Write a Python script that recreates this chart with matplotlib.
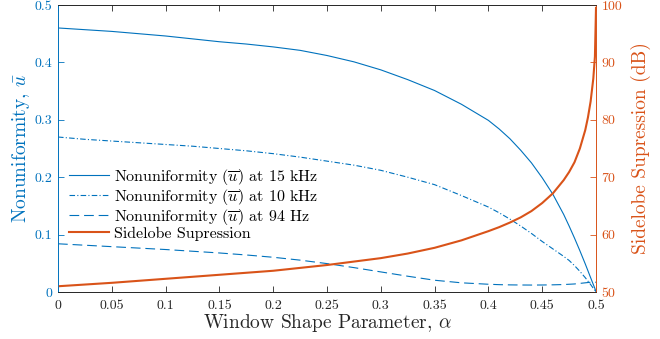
import numpy as np
import matplotlib
matplotlib.use('Agg')
import matplotlib.pyplot as plt
from matplotlib.ticker import FuncFormatter

plt.rcParams['font.family'] = 'cmr10'
plt.rcParams['mathtext.fontset'] = 'cm'
plt.rcParams['axes.formatter.use_mathtext'] = True
plt.rcParams['lines.scale_dashes'] = False

# window shape parameter values
alpha = [0, 0.025, 0.05, 0.075, 0.1, 0.125, 0.15, 0.175, 0.2, 0.225, 0.25, 0.275,
         0.3, 0.325, 0.35, 0.375, 0.4, 0.41, 0.42, 0.43, 0.44, 0.45, 0.46, 0.47,
         0.475, 0.48, 0.485, 0.49, 0.4925, 0.495, 0.4975, 0.499, 0.5]

# nonuniformity (left axis)
u_15k = [0.460, 0.457, 0.454, 0.450, 0.446, 0.441, 0.436, 0.432, 0.427, 0.421, 0.412, 0.401,
         0.387, 0.370, 0.351, 0.327, 0.299, 0.284, 0.267, 0.247, 0.225, 0.199, 0.170, 0.135,
         0.115, 0.094, 0.072, 0.049, 0.037, 0.025, 0.013, 0.006, 0.0]
u_10k = [0.270, 0.266, 0.263, 0.260, 0.257, 0.254, 0.250, 0.246, 0.241, 0.235, 0.228, 0.221,
         0.212, 0.200, 0.187, 0.168, 0.148, 0.138, 0.127, 0.115, 0.102, 0.088, 0.075, 0.062,
         0.055, 0.046, 0.036, 0.025, 0.019, 0.013, 0.0065, 0.003, 0.0]
u_94 = [0.084, 0.0815, 0.079, 0.0765, 0.074, 0.071, 0.068, 0.0645, 0.0605, 0.0555, 0.0495, 0.0425,
        0.035, 0.0275, 0.0205, 0.016, 0.0135, 0.0128, 0.0124, 0.0122, 0.0121, 0.0122, 0.0125, 0.013,
        0.0135, 0.014, 0.015, 0.016, 0.0165, 0.017, 0.017, 0.017, 0.017]

# sidelobe suppression in dB (right axis)
sidelobe = [51.0, 51.3, 51.6, 51.95, 52.3, 52.65, 53.0, 53.35, 53.7, 54.2, 54.7, 55.3,
            55.9, 56.7, 57.7, 59.0, 60.6, 61.3, 62.1, 63.0, 64.1, 65.5, 67.2, 69.5,
            70.9, 72.6, 75.0, 78.2, 80.4, 83.2, 87.2, 91.0, 99.5]

blue = '#0072BD'
orange = '#D95319'
dark = '#262626'

fig = plt.figure(figsize=(6.6, 3.39), dpi=100)
ax = fig.add_axes([58/660, 1 - 292/339, 538/660, 287/339])
ax2 = ax.twinx()

l1, = ax.plot(alpha, u_15k, '-', color=blue, lw=0.8)
l2, = ax.plot(alpha, u_10k, color=blue, lw=0.8, dashes=(4, 1.6, 0.8, 1.6))
l3, = ax.plot(alpha, u_94, color=blue, lw=0.8, dashes=(7, 3.5))
l4, = ax2.plot(alpha, sidelobe, '-', color=orange, lw=1.5)

ax.set_xlim(0, 0.5)
ax.set_ylim(0, 0.5)
ax2.set_ylim(50, 100)
ax.set_xticks(np.arange(0, 0.501, 0.05))
ax.set_yticks(np.arange(0, 0.501, 0.1))
ax2.set_yticks(np.arange(50, 101, 10))
fmt = FuncFormatter(lambda v, p: '%g' % round(v, 3))
ax.xaxis.set_major_formatter(fmt)
ax.yaxis.set_major_formatter(fmt)
ax2.yaxis.set_major_formatter(fmt)

for a in (ax, ax2):
    a.spines['top'].set_color(dark)
    a.spines['bottom'].set_color(dark)
    a.spines['left'].set_color(blue)
    a.spines['right'].set_color(orange)
    for s in a.spines.values():
        s.set_linewidth(0.6)

ax.tick_params(axis='x', direction='in', top=True, length=4, width=0.6,
               colors=dark, labelsize=10, pad=6)
ax.tick_params(axis='y', direction='in', length=4, width=0.6,
               colors=blue, labelsize=10, pad=4)
ax2.tick_params(axis='y', direction='in', length=4, width=0.6,
                colors=orange, labelsize=10, pad=4)

ax.set_xlabel(r'Window Shape Parameter, $\alpha$', fontsize=14, color=dark, labelpad=0)
ax.set_ylabel(r'Nonuniformity, $\bar{u}$', fontsize=14, color=blue, labelpad=2)
ax2.set_ylabel('Sidelobe Supression (dB)', fontsize=14, color=orange, labelpad=6)

ax.legend([l1, l2, l3, l4],
          [r'Nonuniformity $(\overline{u})$ at 15 kHz',
           r'Nonuniformity $(\overline{u})$ at 10 kHz',
           r'Nonuniformity $(\overline{u})$ at 94 Hz',
           'Sidelobe Supression'],
          loc='upper left', bbox_to_anchor=(0.0, 0.475), frameon=False,
          fontsize=11.5, handlelength=2.5, handletextpad=0.3, labelspacing=0.0,
          borderaxespad=0.3)

fig.savefig('out.png', dpi=100)
